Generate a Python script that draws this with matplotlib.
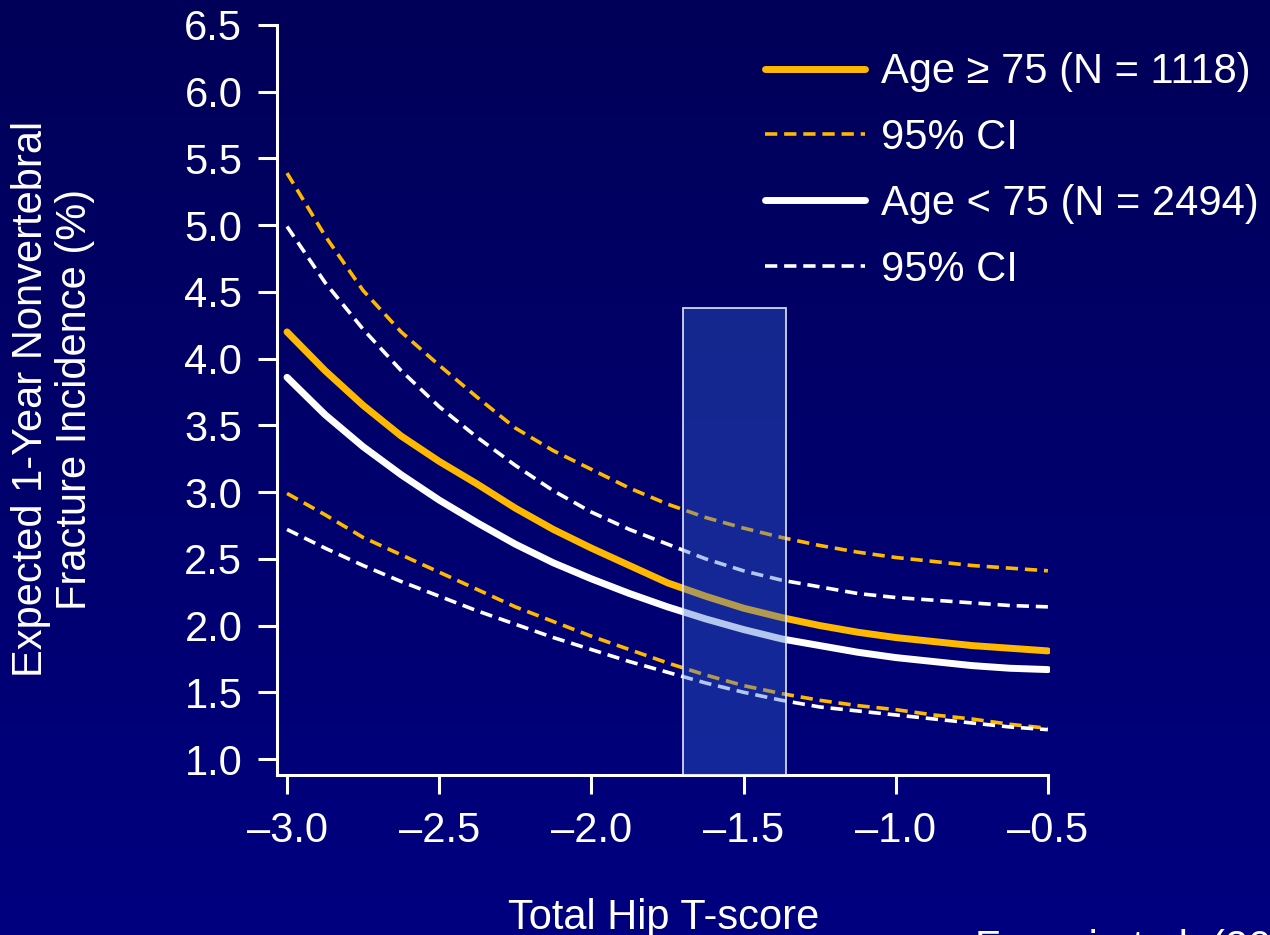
import numpy as np
import matplotlib
matplotlib.use('Agg')
import matplotlib.pyplot as plt
from matplotlib.patches import Rectangle

plt.rcParams['font.family'] = ['Liberation Sans', 'DejaVu Sans']

# T-score grid and values
tscore = [-3.0, -2.875, -2.75, -2.625, -2.5, -2.375, -2.25, -2.125, -2.0, -1.875,
          -1.75, -1.625, -1.5, -1.375, -1.25, -1.125, -1.0, -0.875, -0.75, -0.625, -0.5]

old_mean = [4.20, 3.91, 3.65, 3.42, 3.23, 3.06, 2.88, 2.72, 2.58, 2.45,
            2.32, 2.22, 2.13, 2.06, 2.00, 1.95, 1.91, 1.88, 1.85, 1.83, 1.81]
old_upper = [5.39, 4.92, 4.51, 4.20, 3.95, 3.71, 3.48, 3.31, 3.17, 3.03,
             2.91, 2.81, 2.73, 2.66, 2.60, 2.55, 2.51, 2.48, 2.45, 2.43, 2.41]
old_lower = [2.99, 2.83, 2.66, 2.53, 2.40, 2.27, 2.14, 2.03, 1.92, 1.82,
             1.72, 1.63, 1.55, 1.49, 1.44, 1.40, 1.37, 1.33, 1.30, 1.26, 1.23]

young_mean = [3.86, 3.58, 3.34, 3.13, 2.94, 2.77, 2.61, 2.47, 2.35, 2.24,
              2.14, 2.05, 1.97, 1.90, 1.85, 1.80, 1.76, 1.73, 1.70, 1.68, 1.67]
young_upper = [4.99, 4.57, 4.22, 3.91, 3.64, 3.41, 3.20, 3.01, 2.85, 2.72,
               2.61, 2.50, 2.41, 2.34, 2.29, 2.24, 2.21, 2.19, 2.17, 2.15, 2.14]
young_lower = [2.72, 2.58, 2.45, 2.33, 2.22, 2.11, 2.01, 1.91, 1.82, 1.73,
               1.65, 1.57, 1.50, 1.44, 1.39, 1.36, 1.33, 1.30, 1.27, 1.24, 1.22]

box_x = [-1.70, -1.36]
box_top = 4.38

xticks = [-3.0, -2.5, -2.0, -1.5, -1.0, -0.5]
yticks = [1.0, 1.5, 2.0, 2.5, 3.0, 3.5, 4.0, 4.5, 5.0, 5.5, 6.0, 6.5]

orange = '#ffb800'
fs = 30
dash = (3.4, 1.9)

fig = plt.figure(figsize=(12.7, 9.35), dpi=100)

# gradient background
bg = fig.add_axes([0, 0, 1, 1], zorder=-10)
grad = np.linspace(0, 1, 256).reshape(-1, 1)
top_c = np.array([0, 0, 88]) / 255
bot_c = np.array([0, 0, 128]) / 255
img = top_c[None, None, :] * (1 - grad[:, :, None]) + bot_c[None, None, :] * grad[:, :, None]
bg.imshow(img, aspect='auto', extent=[0, 1, 0, 1])
bg.axis('off')

ax = fig.add_axes([0.2181, 0.1711, 0.6087, 0.8022])
ax.set_facecolor('none')

l1, = ax.plot(tscore, old_mean, '-', color=orange, lw=5, solid_capstyle='round',
              solid_joinstyle='round')
l2, = ax.plot(tscore, old_upper, '--', color=orange, lw=2.6, dashes=dash)
ax.plot(tscore, old_lower, '--', color=orange, lw=2.6, dashes=dash)
l3, = ax.plot(tscore, young_mean, '-', color='white', lw=5, solid_capstyle='round',
              solid_joinstyle='round')
l4, = ax.plot(tscore, young_upper, '--', color='white', lw=2.6, dashes=dash)
ax.plot(tscore, young_lower, '--', color='white', lw=2.6, dashes=dash)

ax.add_patch(Rectangle((box_x[0], 0.88), box_x[1] - box_x[0], box_top - 0.88,
                       facecolor=(53/255, 105/255, 212/255, 0.38),
                       edgecolor=(0.9, 0.92, 1.0, 0.9), lw=1.3, zorder=5))

ax.set_xlim(-3.033, -0.493)
ax.set_ylim(0.88, 6.5)
ax.set_xticks(xticks)
ax.set_xticklabels(['\u2013%.1f' % abs(v) for v in xticks])
ax.set_yticks(yticks)
ax.set_yticklabels(['%.1f' % v for v in yticks])

for s in ['top', 'right']:
    ax.spines[s].set_visible(False)
for s in ['left', 'bottom']:
    ax.spines[s].set_color('white')
    ax.spines[s].set_linewidth(2.2)
ax.spines['left'].set_bounds(0.88, 6.5)
ax.spines['bottom'].set_bounds(-3.033, -0.5)
ax.tick_params(colors='white', labelsize=fs, width=2.2, length=14, direction='out')
ax.tick_params(axis='y', pad=11)
ax.tick_params(axis='x', pad=12)

ax.set_xlabel('Total Hip T-score', color='white', fontsize=fs, labelpad=34)
fig.text(0.042, 0.573, 'Expected 1-Year Nonvertebral\nFracture Incidence (%)',
         color='white', fontsize=fs, rotation=90, ha='center', va='center',
         multialignment='center', linespacing=1.12)

fig.legend([l1, l2, l3, l4],
           ['Age \u2265 75 (N = 1118)', '95% CI', 'Age < 75 (N = 2494)', '95% CI'],
           loc='upper left', bbox_to_anchor=(0.589, 0.962), frameon=False,
           fontsize=fs, labelcolor='white', handlelength=2.4, handletextpad=0.38,
           labelspacing=0.62, borderaxespad=0)

fig.text(0.768, 0.006, 'Ferrari et al. (2012)', color='white', fontsize=fs,
         ha='left', va='top')

fig.savefig('out.png', dpi=100, facecolor='#000060')
